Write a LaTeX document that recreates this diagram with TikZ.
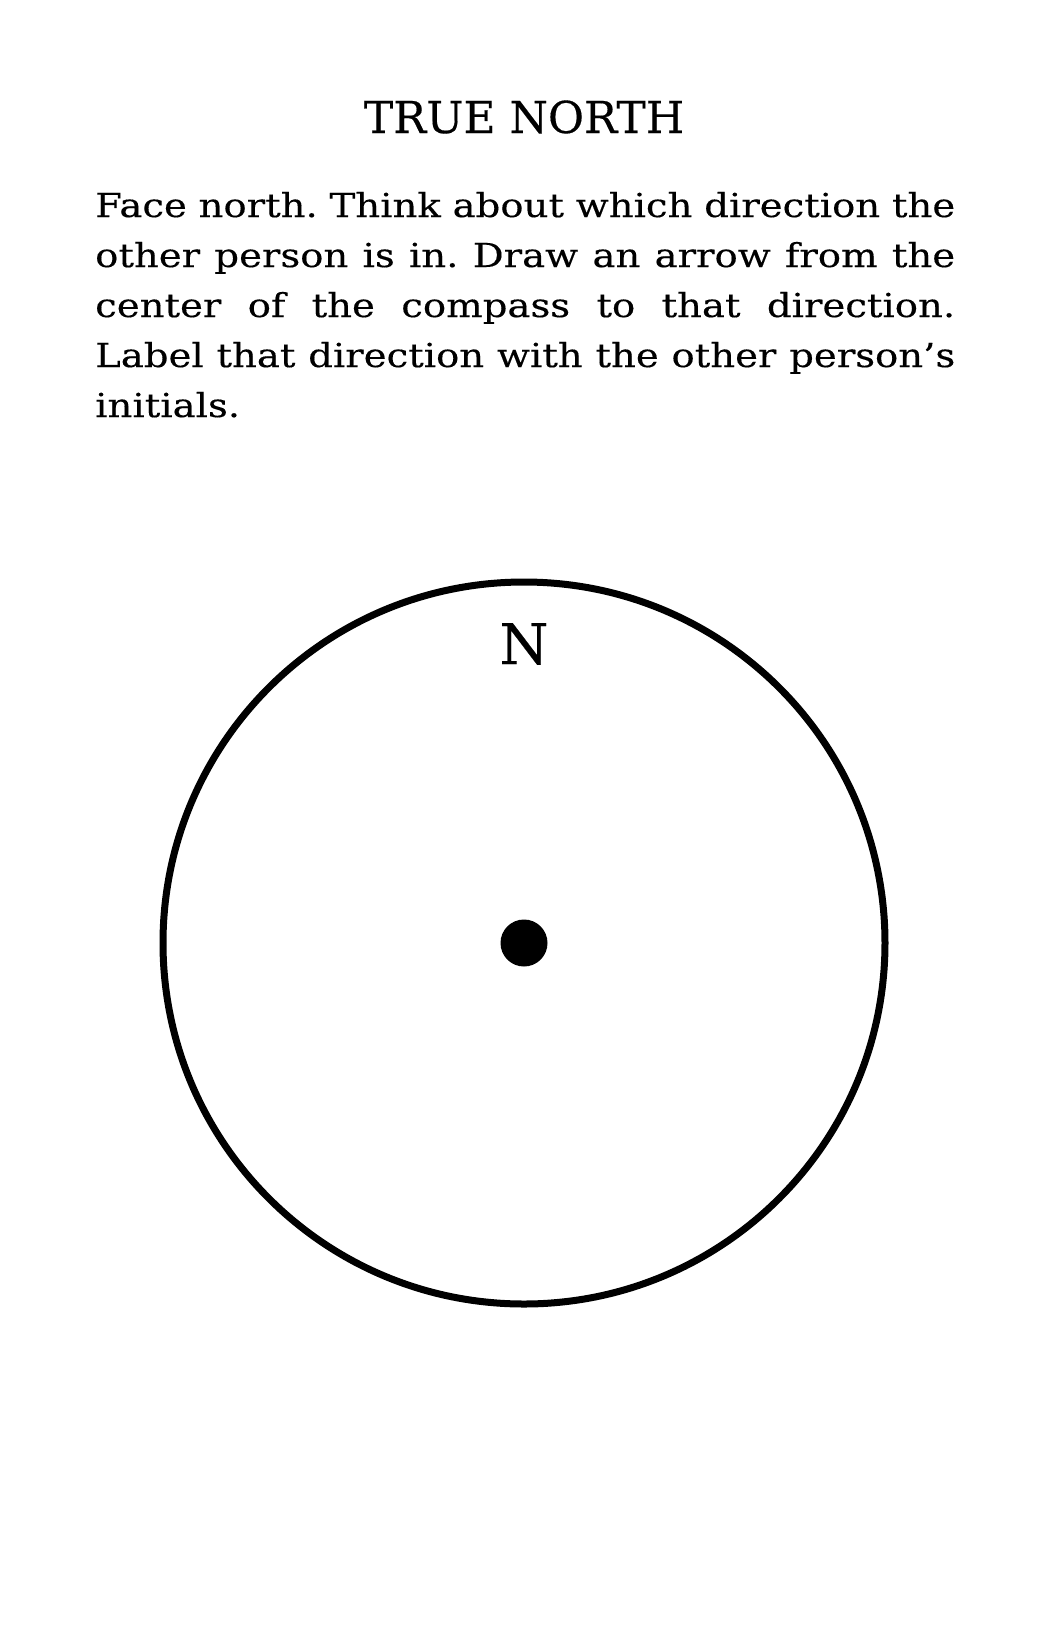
\documentclass[tikz,border=0pt]{standalone}
\usepackage{fontspec}
\setmainfont{DejaVu Serif}
\newfontfamily\bodyfont[FakeStretch=1.17,FakeBold=0.3]{DejaVu Serif}
\newfontfamily\headfont[FakeBold=0.3]{DejaVu Serif}
\begin{document}
\frenchspacing
\begin{tikzpicture}[x=1pt,y=-1pt,
  bodyline/.style={anchor=base west, inner sep=0pt, font=\bodyfont\fontsize{33}{40}\selectfont},
  titletext/.style={anchor=base, inner sep=0pt, font=\headfont\fontsize{44}{50}\selectfont},
  dirlabel/.style={anchor=base, inner sep=0pt, font=\headfont\fontsize{56}{60}\selectfont},
  ring/.style={circle, draw, line width=7pt, minimum size=722pt, inner sep=0pt, outer sep=0pt},
  hub/.style={circle, fill, minimum size=47pt, inner sep=0pt, outer sep=0pt}]
\useasboundingbox[fill=white] (0,0) rectangle (1050,1650);
\node[titletext] (title) at (524,133) {TRUE NORTH};
\node[bodyline] (l1) at (95,217) {\frenchspacing\makebox[860pt][s]{Face north. Think about which direction the}};
\node[bodyline] (l2) at (95,267) {\frenchspacing\makebox[860pt][s]{other person is in. Draw an arrow from the}};
\node[bodyline] (l3) at (95,317) {\frenchspacing\makebox[860pt][s]{center of the compass to that direction.}};
\node[bodyline] (l4) at (95,367) {\frenchspacing\makebox[860pt][s]{Label that direction with the other person’s}};
\node[bodyline] (l5) at (95,417) {initials.};
\node[ring] (compass) at (524,943) {};
\node[hub] (center) at (524,943) {};
\node[dirlabel] (north) at (524,664) {N};
\end{tikzpicture}
\end{document}
